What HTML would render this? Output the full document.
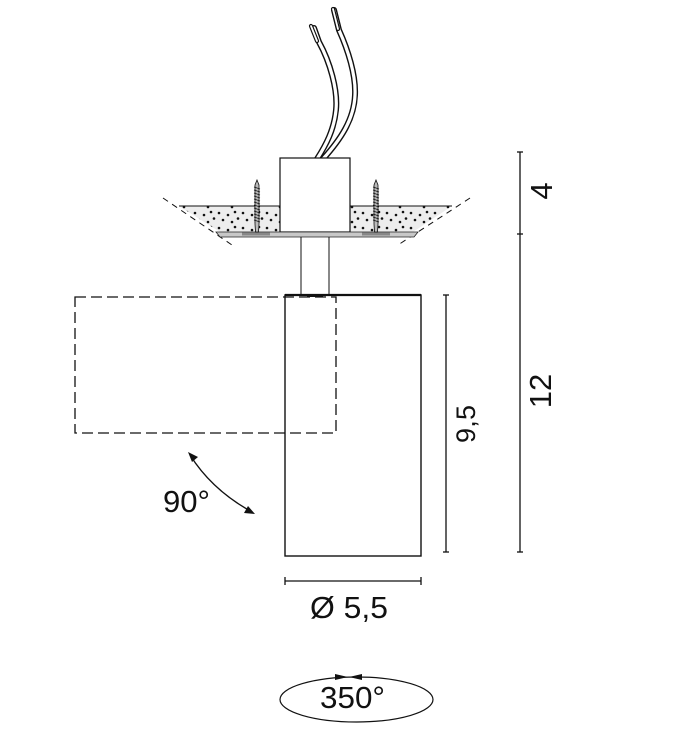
<!DOCTYPE html>
<html><head><meta charset="utf-8"><style>
html,body{margin:0;padding:0;background:#fff;}
svg{display:block;}
text{font-family:"Liberation Sans",Arial,sans-serif;fill:#111;}
</style></head><body>
<svg width="684" height="745" viewBox="0 0 684 745" xmlns="http://www.w3.org/2000/svg">
<defs>
<pattern id="dots" x="0" y="0" width="24" height="15" patternUnits="userSpaceOnUse">
<rect width="24" height="15" fill="#ededed"/>
<circle cx="3" cy="3" r="1.3" fill="#111"/>
<circle cx="12" cy="5" r="1.3" fill="#111"/>
<circle cx="19" cy="2" r="1.3" fill="#111"/>
<circle cx="7" cy="10" r="1.3" fill="#111"/>
<circle cx="16" cy="12" r="1.3" fill="#111"/>
<circle cx="22" cy="8.5" r="1.3" fill="#111"/>
</pattern>
</defs>

<!-- wires -->
<g fill="none" stroke-linecap="round">
<path d="M314,28 L319,42 C330,62 338,90 336,110 C334,130 326,145 317,159" stroke="#111" stroke-width="6"/>
<path d="M314,28 L319,42 C330,62 338,90 336,110 C334,130 326,145 317,159" stroke="#fff" stroke-width="3.2"/>
<path d="M334,10 L339,30 C348,50 356,75 355,95 C354,120 340,140 323,159" stroke="#111" stroke-width="6"/>
<path d="M334,10 L339,30 C348,50 356,75 355,95 C354,120 340,140 323,159" stroke="#fff" stroke-width="3.2"/>
<path d="M311,26 L317,41" stroke="#111" stroke-width="4.2"/>
<path d="M311,26 L317,41" stroke="#fff" stroke-width="1.8"/>
<path d="M333,9 L338,29" stroke="#111" stroke-width="4.2"/>
<path d="M333,9 L338,29" stroke="#fff" stroke-width="1.8"/>
</g>

<!-- ceiling fill -->
<polygon points="179,206 280,206 280,232 220,232" fill="url(#dots)"/>
<polygon points="350,206 452,206 413,232 350,232" fill="url(#dots)"/>
<line x1="179" y1="206" x2="280" y2="206" stroke="#111" stroke-width="1"/>
<line x1="350" y1="206" x2="452" y2="206" stroke="#111" stroke-width="1"/>
<!-- break lines -->
<line x1="163" y1="198" x2="232" y2="245" stroke="#111" stroke-width="1" stroke-dasharray="6 5"/>
<line x1="470" y1="198" x2="398" y2="245" stroke="#111" stroke-width="1" stroke-dasharray="6 5"/>

<!-- box -->
<rect x="280" y="158" width="70" height="74" fill="#fff" stroke="#111" stroke-width="1.2"/>

<!-- plate -->
<polygon points="216,232 418,232 414,237 220,237" fill="#c8c8c8" stroke="#222" stroke-width="0.8"/>
<rect x="242" y="232.5" width="28" height="3" fill="#888"/>
<rect x="362" y="232.5" width="28" height="3" fill="#888"/>

<!-- screws -->
<g stroke="#111" stroke-width="0.8">
<path d="M257,180 L259,185 L259,224 L258.5,232 L255.5,232 L255,224 L255,185 Z" fill="#bbb"/>
<path d="M254,187 L260,189 M254,190 L260,192 M254,193 L260,195 M254,196 L260,198 M254,199 L260,201 M254,202 L260,204 M254,205 L260,207 M254,208 L260,210 M254,211 L260,213 M254,214 L260,216 M254,217 L260,219 M254,220 L260,222"/>
<path d="M376,180 L378,185 L378,224 L377.5,232 L374.5,232 L374,224 L374,185 Z" fill="#bbb"/>
<path d="M373,187 L379,189 M373,190 L379,192 M373,193 L379,195 M373,196 L379,198 M373,199 L379,201 M373,202 L379,204 M373,205 L379,207 M373,208 L379,210 M373,211 L379,213 M373,214 L379,216 M373,217 L379,219 M373,220 L379,222"/>
</g>

<!-- stem -->
<line x1="301" y1="237" x2="301" y2="295" stroke="#111" stroke-width="1"/>
<line x1="329" y1="237" x2="329" y2="295" stroke="#111" stroke-width="1"/>

<!-- cylinder -->
<rect x="285" y="295" width="136" height="261" fill="#fff" stroke="#111" stroke-width="1.4"/>
<line x1="285" y1="295" x2="421" y2="295" stroke="#111" stroke-width="2.2"/>
<rect x="307" y="294" width="16" height="3" fill="#111"/>

<!-- dashed rotated position -->
<rect x="75" y="297" width="261" height="136" fill="none" stroke="#111" stroke-width="1.3" stroke-dasharray="11 5"/>

<!-- 90 deg arc -->
<path d="M190,455 Q212,490 252,512" fill="none" stroke="#111" stroke-width="1.3"/>
<polygon points="188,452 198,457 192,462" fill="#111"/>
<polygon points="255,514 244,513 248,506" fill="#111"/>
<text x="163" y="512" font-size="31" textLength="47" lengthAdjust="spacingAndGlyphs">90°</text>

<!-- diameter dimension -->
<line x1="285" y1="581" x2="421" y2="581" stroke="#111" stroke-width="1.3"/>
<line x1="285" y1="577" x2="285" y2="585" stroke="#111" stroke-width="1.3"/>
<line x1="421" y1="577" x2="421" y2="585" stroke="#111" stroke-width="1.3"/>
<text x="310" y="618" font-size="31" textLength="78" lengthAdjust="spacingAndGlyphs">Ø 5,5</text>

<!-- 9,5 dimension -->
<line x1="446" y1="295" x2="446" y2="552" stroke="#111" stroke-width="1.3"/>
<line x1="443" y1="295" x2="449" y2="295" stroke="#111" stroke-width="1.3"/>
<line x1="443" y1="552" x2="449" y2="552" stroke="#111" stroke-width="1.3"/>
<text transform="translate(475,424) rotate(-90)" font-size="27" text-anchor="middle" textLength="38" lengthAdjust="spacing">9,5</text>

<!-- 12 / 4 dimension -->
<line x1="520" y1="152" x2="520" y2="552" stroke="#111" stroke-width="1.3"/>
<line x1="517" y1="152" x2="523" y2="152" stroke="#111" stroke-width="1.3"/>
<line x1="517" y1="234" x2="523" y2="234" stroke="#111" stroke-width="1.3"/>
<line x1="517" y1="552" x2="523" y2="552" stroke="#111" stroke-width="1.3"/>
<text transform="translate(552,191) rotate(-90)" font-size="31" text-anchor="middle">4</text>
<text transform="translate(551,391) rotate(-90)" font-size="31" text-anchor="middle">12</text>

<!-- 350 deg -->
<ellipse cx="356.5" cy="699.5" rx="76.5" ry="22.5" fill="none" stroke="#111" stroke-width="1.2"/>
<polygon points="335,674 335,680 348,677" fill="#111"/>
<polygon points="362,674 362,680 349,677" fill="#111"/>
<text x="320" y="708" font-size="31" textLength="65" lengthAdjust="spacingAndGlyphs">350°</text>
</svg>
</body></html>
